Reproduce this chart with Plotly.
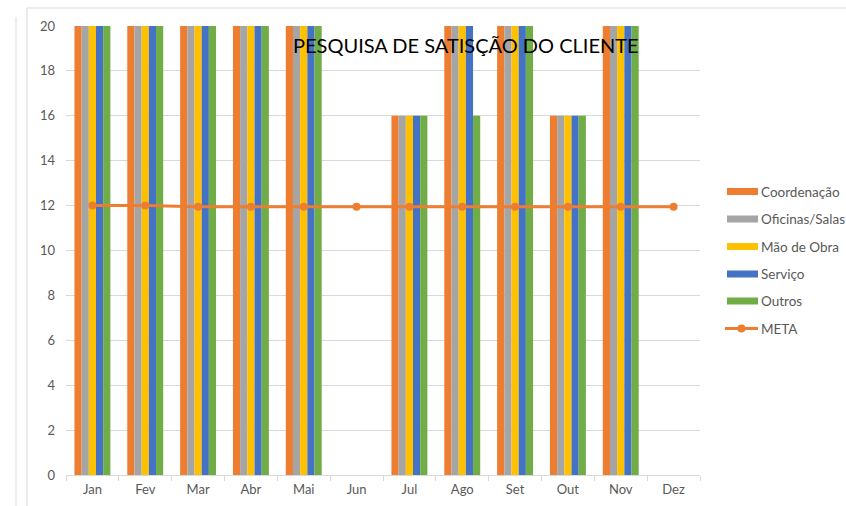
import plotly.graph_objects as go

months = ["Jan", "Fev", "Mar", "Abr", "Mai", "Jun", "Jul", "Ago", "Set", "Out", "Nov", "Dez"]
coordenacao = [20, 20, 20, 20, 20, None, 16, 20, 20, 16, 20, None]
oficinas = [20, 20, 20, 20, 20, None, 16, 20, 20, 16, 20, None]
mao_obra = [20, 20, 20, 20, 20, None, 16, 20, 20, 16, 20, None]
servico = [20, 20, 20, 20, 20, None, 16, 20, 20, 16, 20, None]
outros = [20, 20, 20, 20, 20, None, 16, 16, 20, 16, 20, None]
meta = [12, 12, 11.95, 11.95, 11.95, 11.95, 11.95, 11.95, 11.95, 11.95, 11.95, 11.95]

series = [
    ("Coordenação", coordenacao, "#ED7D31"),
    ("Oficinas/Salas", oficinas, "#A5A5A5"),
    ("Mão de Obra", mao_obra, "#FFC000"),
    ("Serviço", servico, "#4472C4"),
    ("Outros", outros, "#70AD47"),
]
meta_name = "META"
meta_color = "#ED7D31"

FONT = "Lato"
GRAY = "#595959"
GRID = "#D9D9D9"

W, H = 846, 506
L, R, T, B = 66, 146, 26, 31
pw, ph = W - L - R, H - T - B


def px(x):
    return (x - L) / pw


def py(y):
    return (H - B - y) / ph


fig = go.Figure()
for name, vals, color in series:
    fig.add_trace(go.Bar(x=months, y=vals, name=name, marker=dict(color=color, line=dict(width=0))))

fig.add_trace(go.Scatter(x=months, y=meta, mode="lines+markers", name=meta_name,
                         line=dict(color=meta_color, width=3),
                         marker=dict(color=meta_color, size=8)))

fig.add_annotation(text="PESQUISA DE SATISÇÃO DO CLIENTE", x=px(466), y=py(45), xref="paper", yref="paper",
                   showarrow=False, xanchor="center", yanchor="middle",
                   font=dict(family=FONT, size=20, color="#000000"))

# chart frame lines
fig.add_shape(type="line", xref="paper", yref="paper", x0=px(16), x1=px(16), y0=py(17), y1=py(510),
              line=dict(color=GRID, width=1), layer="below")
fig.add_shape(type="line", xref="paper", yref="paper", x0=px(27), x1=px(27), y0=py(8), y1=py(510),
              line=dict(color=GRID, width=1), layer="below")
fig.add_shape(type="line", xref="paper", yref="paper", x0=px(27), x1=px(850), y0=py(8), y1=py(8),
              line=dict(color=GRID, width=1), layer="below")

# legend drawn as shapes + text (Excel style)
leg_y = [191.5, 219, 246.5, 274, 301, 328.5]
LEG_FS = 13.5
for (name, _, color), yc in zip(series, leg_y):
    fig.add_shape(type="rect", xref="paper", yref="paper", x0=px(727), x1=px(758),
                  y0=py(yc - 3.5), y1=py(yc + 3.5), fillcolor=color, line=dict(width=0))
    fig.add_annotation(text=name, x=px(759), y=py(yc), xref="paper", yref="paper", showarrow=False,
                       xanchor="left", yanchor="middle", font=dict(family=FONT, size=LEG_FS, color=GRAY))
ym = leg_y[-1]
fig.add_shape(type="line", xref="paper", yref="paper", x0=px(725), x1=px(758), y0=py(ym), y1=py(ym),
              line=dict(color=meta_color, width=3))
fig.add_shape(type="circle", xref="paper", yref="paper", x0=px(737.5), x1=px(745.5),
              y0=py(ym - 4), y1=py(ym + 4), fillcolor=meta_color, line=dict(width=0))
fig.add_annotation(text=meta_name, x=px(759), y=py(ym), xref="paper", yref="paper", showarrow=False,
                   xanchor="left", yanchor="middle", font=dict(family=FONT, size=LEG_FS, color=GRAY))

fig.update_layout(
    width=W, height=H, autosize=False,
    margin=dict(l=L, r=R, t=T, b=B, autoexpand=False),
    paper_bgcolor="white", plot_bgcolor="white",
    barmode="group", bargap=0.32, bargroupgap=0,
    font=dict(family=FONT, size=13, color=GRAY),
    showlegend=False,
    xaxis=dict(type="category", range=[-0.5, len(months) - 0.5], showgrid=False, showline=True,
               linecolor=GRID, linewidth=1,
               ticks="outside", tickson="boundaries", ticklen=5, tickcolor=GRID, automargin=False,
               tickfont=dict(family=FONT, size=13, color=GRAY), ticklabelstandoff=2),
    yaxis=dict(range=[0, 20], dtick=2, showgrid=True, gridcolor=GRID, gridwidth=1,
               zeroline=False, showline=False, ticks="", automargin=False,
               tickfont=dict(family=FONT, size=13, color=GRAY), ticklabelstandoff=10),
)

fig.write_html("out.html", config={"displayModeBar": False},
               post_script="document.body.style.margin='0';document.body.style.overflow='hidden';")
